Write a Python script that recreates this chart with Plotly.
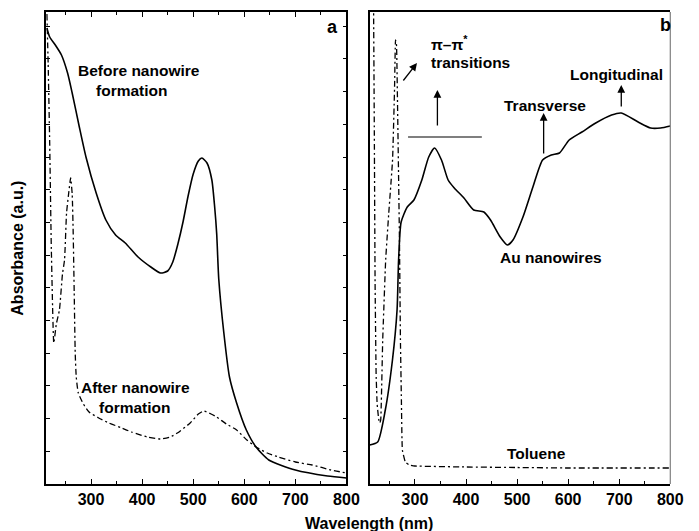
import plotly.graph_objects as go

# ---------------- data (wavelength nm, absorbance a.u.) ----------------
# Panel a: before nanowire formation (solid)
a_before_nm = [213.5, 219, 230, 242, 254, 263, 277, 290, 310, 329, 348, 367, 392, 417, 436,
               450, 460, 470, 480, 490, 500, 510, 517, 527, 536.5, 542, 546, 550, 560, 571,
               585, 604, 623, 648, 700, 763, 800]
a_before_v = [456, 447, 439, 429, 411, 391, 357, 327, 291, 264, 249, 241, 227, 217, 211,
              213, 222, 240, 262, 288, 310, 323, 326, 321, 304, 277, 250, 205, 151, 107,
              81, 54, 37, 24, 14, 8, 6]

# Panel a: after nanowire formation (dash-dot)
a_after_nm = [213.5, 216, 219, 222, 225, 227, 232, 238, 244, 248, 252, 256, 260, 263, 265,
              267, 269, 271, 275, 285, 296, 315, 335, 360, 379, 410, 436, 455, 469, 494,
              510, 521, 535, 546, 565, 585, 605, 623, 645, 667, 700, 733, 770, 800]
a_after_v = [470, 420, 340, 240, 170, 141, 160, 174, 210, 224, 271, 290, 306, 290, 251,
             191, 130, 107, 91, 80, 72, 66, 61, 56, 52, 47, 45, 47, 51, 61,
             70, 73, 70, 67, 60, 54, 44, 37, 31, 27, 22, 19, 14, 11]

# Panel b: Au nanowires (solid)
b_wire_nm = [211.5, 227, 242, 256, 265, 268, 273, 285, 298, 313.5, 327, 338.5, 352, 365,
             377, 396, 415, 435, 448, 467, 481, 492, 511.5, 531, 550, 567, 583, 602,
             627, 654, 685, 704, 737, 761.5, 781, 800]
b_wire_v = [39, 42, 74, 124, 174, 224, 262, 277, 284, 304, 327, 336, 324, 304,
            296, 286, 274, 272, 264, 247, 239, 244, 267, 297, 324, 329, 331, 344,
            352, 361, 369, 371, 362, 356, 356, 358]

# Panel b: toluene (dash-dot)
b_tol_nm = [219, 220.5, 222, 224, 226, 229, 231.2, 233, 236.9, 242.7, 248.5, 256.2, 260, 262,
            263.9, 265.8, 267.8, 269.7, 271.6, 273.5, 275.4, 281.2, 288.9, 300, 400, 500, 600, 800]
b_tol_v = [480, 350, 200, 110, 80, 65, 61, 64, 144, 224, 269, 324, 394, 444,
           439, 384, 314, 244, 144, 84, 34, 22, 19, 18, 17, 16.5, 16, 16]

x_ticks = [300, 400, 500, 600, 700, 800]
x_range = [212, 800]
y_range = [0, 472]

# ---------------- figure ----------------
W, H = 699, 531
FONT = "Liberation Sans, Arial, sans-serif"


def px_x(p):
    return p / W


def px_y(p):
    return 1 - p / H


fig = go.Figure()

solid = dict(color="black", width=1.6)
dashdot = dict(color="black", width=1.3, dash="6px,3px,2px,3px")

fig.add_trace(go.Scatter(x=a_before_nm, y=a_before_v, mode="lines", line=dict(**solid, shape="spline", smoothing=0.6),
                         xaxis="x", yaxis="y", showlegend=False))
fig.add_trace(go.Scatter(x=a_after_nm, y=a_after_v, mode="lines", line=dict(**dashdot, shape="spline", smoothing=0.5),
                         xaxis="x", yaxis="y", showlegend=False))
fig.add_trace(go.Scatter(x=b_wire_nm, y=b_wire_v, mode="lines", line=dict(**solid, shape="spline", smoothing=0.6),
                         xaxis="x2", yaxis="y2", showlegend=False))
fig.add_trace(go.Scatter(x=b_tol_nm, y=b_tol_v, mode="lines", line=dict(**dashdot, shape="spline", smoothing=0.3),
                         xaxis="x2", yaxis="y2", showlegend=False))

ydom = [px_y(484), px_y(12)]

xcommon = dict(range=x_range, tickvals=x_ticks, ticks="inside", ticklen=5, tickwidth=1.2,
               tickcolor="black", showline=True, linecolor="black", linewidth=1.6,
               showgrid=False, zeroline=False,
               tickfont=dict(family=FONT, size=16, color="black", weight="bold"),
               minor=dict(ticks="inside", dtick=50, tick0=200, ticklen=3, tickcolor="black", showgrid=False))

fig.update_layout(
    width=W, height=H, autosize=False,
    margin=dict(l=0, r=0, t=0, b=0, pad=0),
    paper_bgcolor="white", plot_bgcolor="white",
    xaxis=dict(domain=[px_x(47), px_x(353)], anchor="y", mirror="allticks", **xcommon),
    yaxis=dict(domain=ydom, range=y_range, anchor="x", showticklabels=False, ticks="inside",
               tick0=0, dtick=32.7, ticklen=4, tickcolor="black", showline=True, linecolor="black",
               linewidth=1.6, mirror="allticks", showgrid=False, zeroline=False),
    xaxis2=dict(domain=[px_x(377), px_x(683)], anchor="y2", mirror=True, **xcommon),
    yaxis2=dict(domain=ydom, range=y_range, anchor="x2", showticklabels=False, ticks="",
                showline=True, linecolor="black", linewidth=1.6, mirror=False,
                showgrid=False, zeroline=False),
)

tf = dict(family=FONT, size=15.5, color="black", weight="bold")
ann = []


def txt(text, x, y, xref, yref, xanchor="center", size=15.5):
    ann.append(dict(text=text, x=x, y=y, xref=xref, yref=yref, xanchor=xanchor, yanchor="middle",
                    showarrow=False, font=dict(tf, size=size)))


def arrow(x0, y0, x1, y1, xref, yref):
    ann.append(dict(text="", x=x1, y=y1, ax=x0, ay=y0, xref=xref, yref=yref, axref=xref, ayref=yref,
                    showarrow=True, arrowhead=2, arrowsize=1.2, arrowwidth=1.3, arrowcolor="black"))


# panel a labels
txt("Before nanowire", 394, 414, "x", "y")
txt("formation", 379, 394, "x", "y")
txt("After nanowire", 386.5, 97, "x", "y")
txt("formation", 385, 77, "x", "y")
txt("a", 773, 457, "x", "y", size=18)

# panel b labels
txt("π–π<sup>*</sup>", 327, 441, "x2", "y2", xanchor="left")
txt("transitions", 327, 422, "x2", "y2", xanchor="left")
txt("Transverse", 554, 379, "x2", "y2")
txt("Longitudinal", 694, 410, "x2", "y2")
txt("Au nanowires", 567, 227, "x2", "y2")
txt("Toluene", 538, 31, "x2", "y2")
txt("b", 790, 459, "x2", "y2", size=18)

arrow(275, 402, 304, 421, "x2", "y2")
arrow(344, 357, 344, 394, "x2", "y2")
arrow(552, 329, 552, 371, "x2", "y2")
arrow(704, 376, 704, 399, "x2", "y2")

# axis titles
ann.append(dict(text="Wavelength (nm)", x=px_x(376), y=px_y(523), xref="paper", yref="paper",
                showarrow=False, font=dict(tf, size=16), xanchor="center", yanchor="middle"))
ann.append(dict(text="Absorbance (a.u.)", x=px_x(17), y=px_y(248), xref="paper", yref="paper",
                showarrow=False, font=dict(tf, size=16), textangle=-90, xanchor="center", yanchor="middle"))

fig.update_layout(annotations=ann)

fig.add_shape(type="line", x0=286.5, x1=431, y0=347, y1=347, xref="x2", yref="y2",
              line=dict(color="black", width=1.2))
# grey right frame edge of panel b
fig.add_shape(type="line", x0=1, x1=1, y0=0, y1=1, xref="x2 domain", yref="y2 domain",
              line=dict(color="#808080", width=1.2))

fig.write_html("out.html")
